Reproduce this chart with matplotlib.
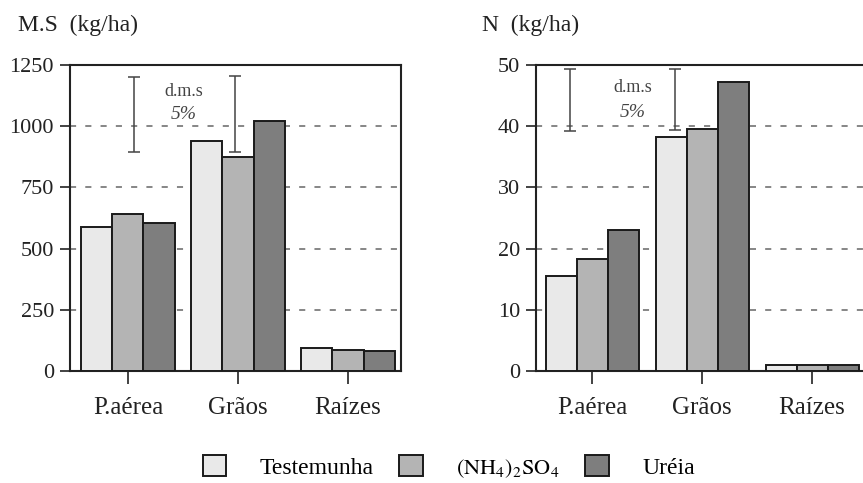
import numpy as np
import matplotlib.pyplot as plt
from matplotlib.patches import Patch

plt.rcParams['font.family'] = ['Liberation Serif', 'DejaVu Serif']
plt.rcParams['mathtext.fontset'] = 'stix'

categorias = ['P.aérea', 'Grãos', 'Raízes']
tratamentos = ['Testemunha', r'$\mathrm{(NH_4)_2SO_4}\hspace{1.0}$', 'Uréia']
cores = ['#e9e9e9', '#b4b4b4', '#7e7e7e']

# matéria seca (kg/ha)
ms_testemunha = [590, 940, 95]
ms_sulfato = [640, 875, 85]
ms_ureia = [605, 1020, 80]

# nitrogênio (kg/ha)
n_testemunha = [15.5, 38.3, 1.0]
n_sulfato = [18.3, 39.5, 1.0]
n_ureia = [23.0, 47.3, 1.0]

# barras d.m.s 5%: (posição x, mínimo, máximo)
ms_dms = [(0.055, 895, 1200), (0.97, 895, 1205)]
n_dms = [(-0.2, 39.2, 49.3), (0.755, 39.4, 49.3)]

fig = plt.figure(figsize=(8.63, 4.83), dpi=100)
ax1 = fig.add_axes([0.0811, 0.2319, 0.3836, 0.6335])
ax2 = fig.add_axes([0.6211, 0.2319, 0.3836, 0.6335])

x = np.arange(len(categorias))
w = 0.282


def painel(ax, series, ticks, dms, txt_y, txt_x, xlim):
    for i, (vals, cor) in enumerate(zip(series, cores)):
        ax.bar(x + (i - 1) * w, vals, w, color=cor, edgecolor='#1a1a1a',
               linewidth=1.4, zorder=3)
    ax.set_xlim(*xlim)
    ax.set_ylim(ticks[0], ticks[-1])
    ax.set_yticks(ticks)
    ax.set_xticks(x)
    ax.set_xticklabels(categorias, fontsize=18)
    ax.tick_params(axis='y', direction='out', length=7.5, width=1.2,
                   labelsize=16, pad=4, colors='#222222')
    ax.tick_params(axis='x', direction='out', length=9.5, width=1.2,
                   labelsize=18, pad=9, colors='#222222')
    for s in ax.spines.values():
        s.set_linewidth(1.5)
        s.set_color('#222222')
    for t in ticks[1:-1]:
        ax.axhline(t, color='#666666', linestyle=(0, (4, 6)), linewidth=1.1,
                   zorder=1)
    for xp, lo, hi in dms:
        ax.errorbar(xp, (lo + hi) / 2, yerr=(hi - lo) / 2, color='#444444',
                    capsize=4, elinewidth=1.1, capthick=1.1, zorder=4)
    ax.text(txt_x, txt_y[0], 'd.m.s', ha='center', va='center',
            fontsize=13, color='#444444')
    ax.text(txt_x, txt_y[1], '5%', ha='center', va='center',
            fontsize=14, color='#444444', style='italic')


painel(ax1, [ms_testemunha, ms_sulfato, ms_ureia],
       [0, 250, 500, 750, 1000, 1250], ms_dms, (1140, 1046), 0.51,
       (-0.527, 2.482))
painel(ax2, [n_testemunha, n_sulfato, n_ureia],
       [0, 10, 20, 30, 40, 50], n_dms, (46.4, 42.3), 0.373,
       (-0.51, 2.5))

fig.text(0.021, 0.948, 'M.S  (kg/ha)', fontsize=17, va='center', color='#222222')
fig.text(0.559, 0.948, 'N  (kg/ha)', fontsize=17, va='center', color='#222222')

handles = [Patch(facecolor=c, edgecolor='#1a1a1a', linewidth=1.4) for c in cores]
leg = fig.legend(handles, tratamentos, loc='center', bbox_to_anchor=(0.52, 0.032),
                 ncol=3, frameon=False, fontsize=17, handlelength=1.0,
                 handleheight=1.0, handletextpad=1.4, columnspacing=1.1)
leg.get_texts()[1].set_fontsize(16)

fig.savefig('out.png', dpi=100)
